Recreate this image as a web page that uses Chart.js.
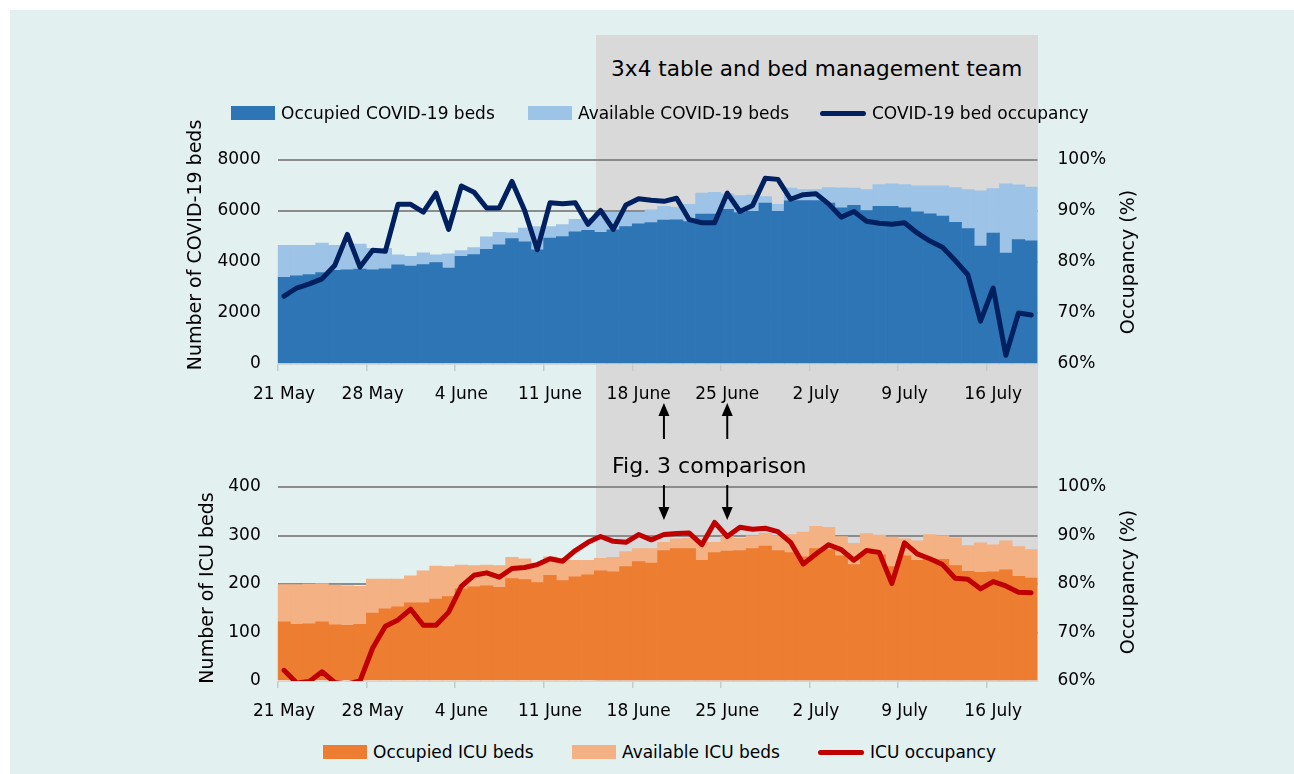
<!DOCTYPE html>
<html>
<head>
<meta charset="utf-8">
<script src="https://cdn.jsdelivr.net/npm/chart.js@4/dist/chart.umd.min.js"></script>
<style>
  html, body { margin:0; padding:0; width:1294px; height:774px; overflow:hidden; background:#ffffff; }
  #panel { position:absolute; left:10px; top:10px; width:1284px; height:764px; background:#E2F0F0; }
  #shade { position:absolute; background:#D9D9D9; }
  .wrap { position:absolute; left:0; width:1294px; }
  .wrap canvas { display:block; }
  .txt { position:absolute; white-space:nowrap; color:#000; font-family:"DejaVu Sans", sans-serif; }
  .rot { transform: translate(-50%,-50%) rotate(-90deg); font-size:19px; }
  .lg { position:absolute; display:flex; align-items:center; transform:translateY(-50%);
        font-family:"DejaVu Sans", sans-serif; font-size:17px; color:#000; white-space:nowrap; }
  .sw { display:inline-block; margin-right:6px; }
  .sw.bar { width:44px; height:14px; }
  .sw.line { width:46px; height:5px; border-radius:3px; }
  #arrows { position:absolute; left:0; top:0; pointer-events:none; }
</style>
</head>
<body>
<div id="panel"></div>
<div id="shade"></div>
<div class="txt" id="boxTitle" style="font-size:21.6px;">3x4 table and bed management team</div>
<div class="wrap" style="top:119.5px;height:290px;"><canvas id="c1" width="1294" height="290"></canvas></div>
<div class="wrap" style="top:447.3px;height:283px;"><canvas id="c2" width="1294" height="283"></canvas></div>
<div class="txt" id="figText" style="font-size:22px;">Fig. 3 comparison</div>
<div class="txt rot" style="left:194px;top:244.5px;">Number of COVID-19 beds</div>
<div class="txt rot" style="left:1127px;top:261.5px;">Occupancy (%)</div>
<div class="txt rot" style="left:206px;top:588px;">Number of ICU beds</div>
<div class="txt rot" style="left:1127px;top:582px;">Occupancy (%)</div>
<div id="legend1"></div>
<div id="legend2"></div>
<svg id="arrows" width="1294" height="774"></svg>

<script>
// ---------------- DATA ----------------
const dates = [
  '21 May','22 May','23 May','24 May','25 May','26 May','27 May','28 May','29 May','30 May','31 May',
  '1 June','2 June','3 June','4 June','5 June','6 June','7 June','8 June','9 June','10 June',
  '11 June','12 June','13 June','14 June','15 June','16 June','17 June','18 June','19 June','20 June',
  '21 June','22 June','23 June','24 June','25 June','26 June','27 June','28 June','29 June','30 June',
  '1 July','2 July','3 July','4 July','5 July','6 July','7 July','8 July','9 July','10 July',
  '11 July','12 July','13 July','14 July','15 July','16 July','17 July','18 July','19 July'
];

const covidOccupied = [
  3400,3460,3510,3590,3670,3690,3720,3690,3730,3890,
  3840,3900,3980,3760,4220,4290,4500,4670,4920,4790,
  4480,4940,5000,5180,5240,5160,5260,5390,5500,5550,
  5640,5650,5590,5880,5880,6070,5940,5990,6310,5990,
  6400,6410,6410,6310,6120,6220,6020,6180,6180,6120,
  5970,5890,5800,5560,5310,4620,5130,4350,4880,4830
];
const covidAvailable = [
  1250,1190,1140,1150, 980,1010, 980, 850, 810, 390,
   380, 460, 300, 560, 230, 280, 490, 490, 220, 540,
   910, 450, 470, 490, 480, 790, 690, 560, 450, 500,
   540, 490, 670, 820, 850, 600, 660, 630, 260, 270,
   500, 430, 430, 610, 790, 680, 820, 860, 890, 920,
  1020,1100,1190,1360,1530,2170,1750,2720,2150,2110
];
const covidOccupancy = [
  73.3,74.9,75.7,76.7,79.3,85.4,79.0,82.3,82.1,91.3,
  91.3,89.8,93.5,86.4,94.9,93.7,90.6,90.6,95.8,90.1,
  82.4,91.6,91.4,91.6,87.4,90.1,86.4,91.2,92.4,92.1,
  91.9,92.5,88.3,87.7,87.7,93.5,89.9,91.1,96.4,96.2,
  92.3,93.2,93.4,91.4,88.8,89.9,88.0,87.6,87.4,87.7,
  85.7,84.1,82.9,80.3,77.5,68.4,74.9,61.7,70.0,69.6
];

const icuOccupied = [
  122,117,118,122,116,115,117,140,149,153,
  161,161,169,174,190,194,196,193,211,209,
  203,218,207,215,219,227,225,236,246,243,
  269,273,273,249,265,268,269,273,278,269,
  265,256,273,271,258,240,262,260,236,258,
  249,253,251,238,226,224,225,229,216,212
];
const icuAvailable = [
  77,82,82,79,82,81,78,70,61,57,
  56,66,68,62,49,44,43,45,44,43,
  40,38,43,34,30,26,30,31,27,30,
  17,20,21,37,21,30,25,27,27,31,
  37,51,46,46,40,44,42,41,61,35,
  40,49,49,57,53,61,56,60,61,59
];
const icuOccupancy = [
  62.2,59.6,59.9,61.9,59.7,59.4,60.0,66.8,71.3,72.6,
  74.8,71.5,71.5,74.2,79.5,81.8,82.3,81.4,83.2,83.4,
  84.0,85.2,84.7,86.9,88.6,89.8,88.8,88.6,90.2,89.1,
  90.2,90.4,90.5,88.1,92.7,89.8,91.7,91.3,91.5,90.8,
  88.6,84.1,86.2,88.1,87.1,84.9,86.9,86.5,80.1,88.5,
  86.2,85.2,84.0,81.2,81.0,79.0,80.5,79.6,78.3,78.2
];

const countTicks = { covid: [0, 2000, 4000, 6000, 8000], icu: [0, 100, 200, 300, 400] };
const pctTicks = [60, 70, 80, 90, 100];
const comparisonDates = ['20 June', '25 June'];

// ---------------- CHARTS ----------------
const FONT = '"DejaVu Sans", sans-serif';
Chart.defaults.color = '#000';
Chart.defaults.font.family = FONT;

const PLOT_LEFT = 277.7, PLOT_RIGHT = 1037.5, CANVAS_W = 1294;

function makeChart(canvas, cfg) {
  return new Chart(canvas, {
    type: 'bar',
    data: {
      labels: dates,
      datasets: [
        { label: cfg.labels[0], data: cfg.occupied, backgroundColor: cfg.colors[0],
          borderWidth: 0, barPercentage: 1, categoryPercentage: 1, order: 1, yAxisID: 'y' },
        { label: cfg.labels[1], data: cfg.available, backgroundColor: cfg.colors[1],
          borderWidth: 0, barPercentage: 1, categoryPercentage: 1, order: 1, yAxisID: 'y' },
        { type: 'line', label: cfg.labels[2], data: cfg.occupancy, yAxisID: 'y1',
          borderColor: cfg.colors[2], backgroundColor: cfg.colors[2], borderWidth: 5,
          pointRadius: 0, pointHoverRadius: 0, tension: 0, order: 0,
          borderJoinStyle: 'round', borderCapStyle: 'round' }
      ]
    },
    options: {
      responsive: false,
      animation: false,
      devicePixelRatio: 1,
      layout: { padding: { top: cfg.padTop, bottom: 0, left: 0, right: 0 } },
      plugins: { legend: { display: false }, tooltip: { enabled: false } },
      scales: {
        x: {
          stacked: true, offset: true,
          grid: { display: true, offset: true, drawOnChartArea: false, drawTicks: true, tickLength: 7,
                  color: (c) => (c.index % 7 === 0 ? '#C4CBCB' : 'rgba(0,0,0,0)'), lineWidth: 1.5 },
          border: { display: true, color: '#D0D6D6', width: 1 },
          ticks: { autoSkip: false, maxRotation: 0, minRotation: 0, padding: cfg.xPad,
                   font: { family: FONT, size: 17 }, color: '#000',
                   callback: function (v, i) { return i % 7 === 0 ? this.getLabelForValue(v) : ''; } },
          afterFit: (s) => { s.height = cfg.xHeight; }
        },
        y: {
          stacked: true, position: 'left', min: 0, max: cfg.yTicks[cfg.yTicks.length - 1],
          afterBuildTicks: (s) => { s.ticks = cfg.yTicks.map(v => ({ value: v })); },
          ticks: { padding: 17, font: { family: FONT, size: 17 }, color: '#000',
                   callback: (v) => String(v) },
          grid: { drawTicks: false, lineWidth: 2,
                  color: (c) => (c.tick && c.tick.value === 0 ? 'rgba(0,0,0,0)' : '#8C8C8C') },
          border: { display: false },
          afterFit: (s) => { s.width = PLOT_LEFT; }
        },
        y1: {
          position: 'right', min: pctTicks[0], max: pctTicks[pctTicks.length - 1],
          afterBuildTicks: (s) => { s.ticks = pctTicks.map(v => ({ value: v })); },
          ticks: { padding: 20, font: { family: FONT, size: 17 }, color: '#000',
                   callback: (v) => v + '%' },
          grid: { drawOnChartArea: false, drawTicks: false },
          border: { display: false },
          afterFit: (s) => { s.width = CANVAS_W - PLOT_RIGHT; }
        }
      }
    }
  });
}

const chart1 = makeChart(document.getElementById('c1'), {
  labels: ['Occupied COVID-19 beds', 'Available COVID-19 beds', 'COVID-19 bed occupancy'],
  occupied: covidOccupied, available: covidAvailable, occupancy: covidOccupancy,
  colors: ['#2E75B6', '#9DC3E6', '#002060'],
  yTicks: countTicks.covid, padTop: 40, xHeight: 46, xPad: 13
});
const chart2 = makeChart(document.getElementById('c2'), {
  labels: ['Occupied ICU beds', 'Available ICU beds', 'ICU occupancy'],
  occupied: icuOccupied, available: icuAvailable, occupancy: icuOccupancy,
  colors: ['#ED7D31', '#F4B183', '#C00000'],
  yTicks: countTicks.icu, padTop: 40, xHeight: 49, xPad: 13
});

// ---------------- LEGENDS (HTML, built from chart datasets) ----------------
function buildLegend(chart, id, cy, lefts) {
  const host = document.getElementById(id);
  chart.data.datasets.forEach((ds, i) => {
    const item = document.createElement('div');
    item.className = 'lg';
    item.style.left = lefts[i] + 'px';
    item.style.top = cy + 'px';
    const sw = document.createElement('span');
    if (ds.type === 'line') { sw.className = 'sw line'; sw.style.background = ds.borderColor; }
    else { sw.className = 'sw bar'; sw.style.background = ds.backgroundColor; }
    const t = document.createElement('span');
    t.textContent = ds.label;
    item.appendChild(sw); item.appendChild(t);
    host.appendChild(item);
  });
}
buildLegend(chart1, 'legend1', 113, [231, 528, 820]);
buildLegend(chart2, 'legend2', 752, [323, 572, 818]);

// ---------------- SHADED PERIOD + ANNOTATIONS ----------------
const c1Top = 119.5, c2Top = 447.3;
const shade = document.getElementById('shade');
const shadeLeft = 596, shadeRight = chart1.chartArea.right;
const shadeTop = 35, shadeBottom = c2Top + chart2.chartArea.bottom;
shade.style.left = shadeLeft + 'px';
shade.style.top = shadeTop + 'px';
shade.style.width = (shadeRight - shadeLeft) + 'px';
shade.style.height = (shadeBottom - shadeTop) + 'px';

const bt = document.getElementById('boxTitle');
bt.style.left = ((shadeLeft + shadeRight) / 2) + 'px';
bt.style.top = '68px';
bt.style.transform = 'translate(-50%,-50%)';

const ft = document.getElementById('figText');
ft.style.left = '612px';
ft.style.top = '465px';
ft.style.transform = 'translateY(-50%)';

const svg = document.getElementById('arrows');
function arrow(x, yTail, yTip) {
  const dir = yTip < yTail ? -1 : 1;
  const headH = 13, headW = 11;
  const ns = 'http://www.w3.org/2000/svg';
  const ln = document.createElementNS(ns, 'line');
  ln.setAttribute('x1', x); ln.setAttribute('x2', x);
  ln.setAttribute('y1', yTail); ln.setAttribute('y2', yTip - dir * headH);
  ln.setAttribute('stroke', '#000'); ln.setAttribute('stroke-width', '2');
  svg.appendChild(ln);
  const p = document.createElementNS(ns, 'polygon');
  const yb = yTip - dir * headH;
  p.setAttribute('points', `${x - headW / 2},${yb} ${x + headW / 2},${yb} ${x},${yTip}`);
  p.setAttribute('fill', '#000');
  svg.appendChild(p);
}
comparisonDates.forEach((d) => {
  const idx = dates.indexOf(d);
  const xTop = chart1.scales.x.getPixelForValue(idx);
  const xBot = chart2.scales.x.getPixelForValue(idx);
  arrow(xTop, 439, 403);   // upward arrow under the top chart's dates
  arrow(xBot, 485, 520);   // downward arrow inside the ICU panel
});
</script>
</body>
</html>
